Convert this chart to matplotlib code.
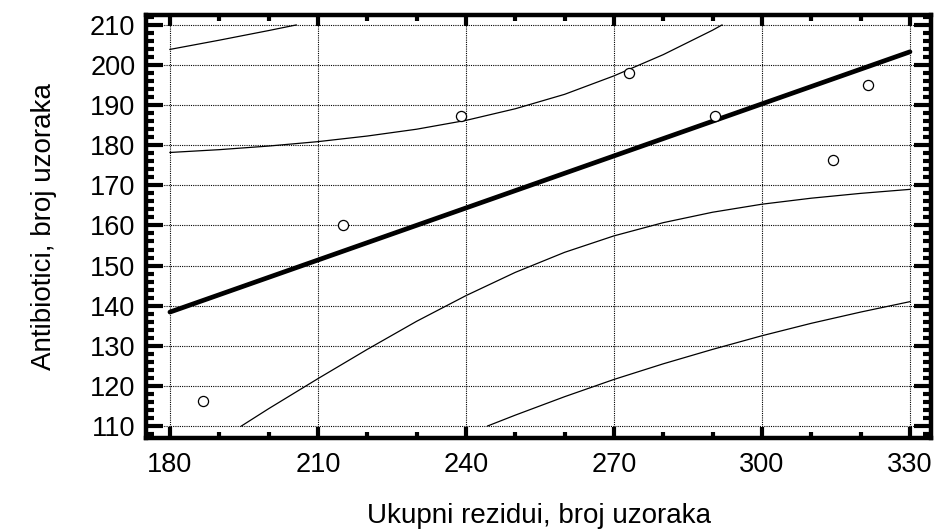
import numpy as np
import matplotlib
matplotlib.use("Agg")
import matplotlib.pyplot as plt
from matplotlib.ticker import MultipleLocator

plt.rcParams['font.family'] = ['Liberation Sans', 'DejaVu Sans']

# observed points
obs_x = [186.7, 215.0, 238.9, 273.1, 290.4, 314.3, 321.5]
obs_y = [116.2, 160.1, 187.3, 198.0, 187.3, 176.3, 195.0]

# fitted line
fit_x = [180, 330]
fit_y = [138.4, 203.3]

# confidence limits
conf_up_x = [180, 190, 200, 210, 220, 230, 240, 250, 260, 270, 280, 290, 291.9]
conf_up_y = [178.2, 178.9, 179.8, 180.9, 182.3, 184.0, 186.2, 189.1, 192.7, 197.3, 202.6, 208.7, 210.0]
conf_lo_x = [194.5, 200, 210, 220, 230, 240, 250, 260, 270, 280, 290, 300, 310, 320, 330]
conf_lo_y = [110.0, 114.3, 121.8, 129.1, 136.1, 142.5, 148.3, 153.3, 157.4, 160.7, 163.3, 165.3, 166.8, 168.0, 169.0]

# prediction limits
pred_up_x = [180, 190, 200, 205.6]
pred_up_y = [203.9, 206.2, 208.6, 210.0]
pred_lo_x = [244.4, 250, 260, 270, 280, 290, 300, 310, 320, 330]
pred_lo_y = [110.0, 112.7, 117.3, 121.6, 125.5, 129.1, 132.5, 135.6, 138.4, 141.0]

fig = plt.figure(figsize=(9.37, 5.30), dpi=100)
ax = fig.add_axes([0.1563, 0.1736, 0.8378, 0.799])

ax.grid(True, color='black', linestyle=(0, (1, 1)), linewidth=0.8)
ax.set_axisbelow(True)

ax.plot(pred_up_x, pred_up_y, color='black', linewidth=0.9)
ax.plot(pred_lo_x, pred_lo_y, color='black', linewidth=0.9)
ax.plot(conf_up_x, conf_up_y, color='black', linewidth=0.9)
ax.plot(conf_lo_x, conf_lo_y, color='black', linewidth=0.9)
ax.plot(fit_x, fit_y, color='black', linewidth=3.4, solid_capstyle='round')
ax.plot(obs_x, obs_y, linestyle='none', marker='o', markersize=7.3,
        markerfacecolor='white', markeredgecolor='black', markeredgewidth=0.9)

ax.set_xlim(175.24, 334.36)
ax.set_ylim(107.0, 212.6)
ax.xaxis.set_major_locator(MultipleLocator(30))
ax.xaxis.set_minor_locator(MultipleLocator(10))
ax.yaxis.set_major_locator(MultipleLocator(10))
ax.yaxis.set_minor_locator(MultipleLocator(2))

for s in ax.spines.values():
    s.set_linewidth(3.2)

ax.tick_params(axis='x', which='major', direction='in', length=8, width=3,
               top=True, labelsize=19.5, pad=10)
ax.tick_params(axis='x', which='minor', direction='in', length=4, width=3, top=True)
ax.tick_params(axis='y', which='major', direction='in', length=12, width=3,
               right=True, labelsize=19.5, pad=8)
ax.tick_params(axis='y', which='minor', direction='in', length=6, width=3, right=True)

ax.set_xlabel('Ukupni rezidui, broj uzoraka', fontsize=20, labelpad=18)
ax.set_ylabel('Antibiotici, broj uzoraka', fontsize=20, labelpad=24)

fig.savefig('out.png', dpi=100)
